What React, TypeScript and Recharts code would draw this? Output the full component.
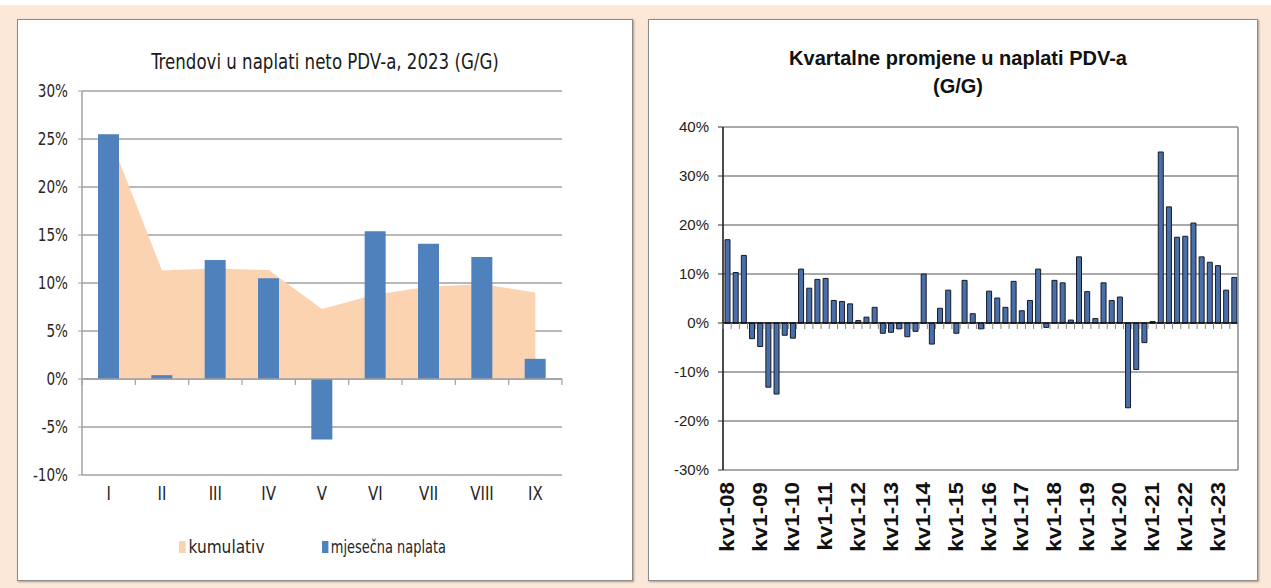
import { ComposedChart, BarChart, Bar, Area, XAxis, YAxis, CartesianGrid, ReferenceLine } from "recharts"

// left chart: monthly 2023
const months = ["I", "II", "III", "IV", "V", "VI", "VII", "VIII", "IX"]
const cumulative = [25.5, 11.3, 11.5, 11.35, 7.3, 8.8, 9.6, 9.9, 9.0]
const monthly = [25.5, 0.4, 12.4, 10.5, -6.3, 15.4, 14.1, 12.7, 2.1]
const leftTicks = [-10, -5, 0, 5, 10, 15, 20, 25, 30]

// right chart: quarterly 2008-2023
const years = ["08", "09", "10", "11", "12", "13", "14", "15", "16", "17", "18", "19", "20", "21", "22", "23"]
const quarterly = [
  17.0, 10.3, 13.8, -3.2, -4.8, -13.1, -14.5, -2.5, -3.1, 11.0,
  7.1, 8.9, 9.1, 4.6, 4.4, 3.9, 0.5, 1.2, 3.2, -2.1,
  -1.9, -1.2, -2.8, -1.7, 10.0, -4.3, 3.0, 6.7, -2.1, 8.7,
  1.9, -1.2, 6.5, 5.1, 3.2, 8.5, 2.5, 4.6, 11.0, -0.9,
  8.7, 8.2, 0.6, 13.5, 6.4, 0.9, 8.2, 4.6, 5.3, -17.3,
  -9.5, -4.0, 0.3, 34.9, 23.7, 17.5, 17.7, 20.4, 13.5, 12.4,
  11.7, 6.7, 9.3,
]
const rightTicks = [-30, -20, -10, 0, 10, 20, 30, 40]

const quarters = years.flatMap((y) => [1, 2, 3, 4].map((q) => `kv${q}-${y}`)).slice(0, quarterly.length)

const leftData = months.map((m, i) => ({ m, cum: cumulative[i], mon: monthly[i] }))
const rightData = quarters.map((q, i) => ({ q, v: quarterly[i] }))

// left geometry
const L_W = 562
const L_H = 430
const L_M = { top: 16, right: 20, bottom: 0, left: 0 }
const L_YW = 62
const L_XH = 30
const L_PLOT_W = L_W - L_M.right - L_YW
const L_PLOT_H = L_H - L_M.top - L_XH
const L_BAND = L_PLOT_W / months.length
const L_ZERO = L_M.top + (L_PLOT_H * 30) / 40

// right geometry
const R_W = 609
const R_H = 465
const R_M = { top: 27, right: 18, bottom: 0, left: 0 }
const R_YW = 75
const R_XH = 95
const R_PLOT_W = R_W - R_M.right - R_YW - 1
const R_PLOT_H = R_H - R_M.top - R_XH
const R_BAND = R_PLOT_W / quarters.length
const R_ZERO = R_M.top + (R_PLOT_H * 40) / 70

const narrow = "'Liberation Sans Narrow', 'DejaVu Sans Condensed', Roboto, sans-serif"
const arial = "'Liberation Sans', Arial, sans-serif"

function MonthTick(props: any) {
  const { x, y, payload, index } = props
  const h = L_BAND / 2
  return (
    <g>
      <line x1={x - h} x2={x - h} y1={L_ZERO} y2={L_ZERO + 6} stroke="#a0a0a0" strokeWidth={1.2} />
      {index === months.length - 1 && (
        <line x1={x + h} x2={x + h} y1={L_ZERO} y2={L_ZERO + 6} stroke="#a0a0a0" strokeWidth={1.2} />
      )}
      <text
        transform={`translate(${x},${y + 25}) scale(0.88,1)`}
        textAnchor="middle"
        fontSize={19}
        fill="#262626"
        fontFamily={narrow}
      >
        {payload.value}
      </text>
    </g>
  )
}

function PctTick(props: any) {
  const { x, y, payload } = props
  return (
    <text
      transform={`translate(${x},${y + 6}) scale(0.84,1)`}
      textAnchor="end"
      fontSize={18}
      fill="#262626"
      fontFamily={narrow}
    >
      {`${payload.value}%`}
    </text>
  )
}

function QuarterTick(props: any) {
  const { x, y, payload, index } = props
  const h = R_BAND / 2
  return (
    <g>
      <line x1={x - h} x2={x - h} y1={R_ZERO} y2={R_ZERO + 6} stroke="#888" strokeWidth={1} />
      {index % 4 === 0 && (
        <text
          transform={`translate(${x + 7},${y + 12}) rotate(-90) scale(1.12,1)`}
          textAnchor="end"
          fontSize={20}
          fontWeight="bold"
          fill="#111"
          fontFamily={arial}
        >
          {payload.value}
        </text>
      )}
    </g>
  )
}

const panel = {
  position: "absolute" as const,
  top: 19,
  height: 560,
  background: "#fff",
  border: "1px solid #8a8a8a",
  boxShadow: "1px 1px 2px rgba(0,0,0,0.35)",
}

const legendItem = {
  position: "absolute" as const,
  top: 536,
  fontFamily: narrow,
  fontSize: 18,
  color: "#262626",
  display: "flex",
  alignItems: "center",
  transformOrigin: "left center",
}

export default function App() {
  return (
    <div style={{ position: "absolute", left: 0, top: 0, width: 1271, height: 588, background: "#fce8d9", overflow: "hidden" }}>
      <div style={{ position: "absolute", left: 0, top: 0, width: 1271, height: 5, background: "#fff" }} />
      <div style={{ ...panel, left: 17, width: 614 }} />
      <div style={{ ...panel, left: 648, width: 608 }} />

      <div
        style={{
          position: "absolute", left: 17, width: 616, top: 50, textAlign: "center",
          fontFamily: narrow, fontSize: 21, color: "#1a1a1a", transform: "scaleX(0.88)",
        }}
      >
        Trendovi u naplati neto PDV-a, 2023 (G/G)
      </div>

      <div style={{ position: "absolute", left: 20, top: 75 }}>
        <ComposedChart width={L_W} height={L_H} data={leftData} margin={L_M}>
          <CartesianGrid horizontal vertical={false} stroke="#a0a0a0" strokeWidth={1.6} />
          <XAxis dataKey="m" height={L_XH} axisLine={false} tickLine={false} tickSize={0} tickMargin={0} interval={0} tick={(p: any) => <MonthTick {...p} />} />
          <YAxis
            width={L_YW}
            domain={[-10, 30]}
            ticks={leftTicks}
            interval={0}
            axisLine={{ stroke: "#a0a0a0", strokeWidth: 1.5 }}
            tickLine={{ stroke: "#a0a0a0" }}
            tickSize={4}
            tickMargin={10}
            tick={(p: any) => <PctTick {...p} />}
          />
          <Area type="linear" dataKey="cum" baseValue={0} fill="#fbd3b0" fillOpacity={1} stroke="none" dot={false} activeDot={false} isAnimationActive={false} />
          <Bar dataKey="mon" barSize={21} fill="#4f81bd" isAnimationActive={false} />
          <ReferenceLine y={0} stroke="#a0a0a0" strokeWidth={1.6} />
        </ComposedChart>
      </div>

      <div style={{ ...legendItem, left: 179, transform: "scaleX(0.95)" }}>
        <span style={{ display: "inline-block", width: 7, height: 12, background: "#fbd3b0", marginRight: 3 }} />
        <span>kumulativ</span>
      </div>
      <div style={{ ...legendItem, left: 322, transform: "scaleX(0.8)" }}>
        <span style={{ display: "inline-block", width: 8, height: 12, background: "#4f81bd", marginRight: 3 }} />
        <span>mjesečna naplata</span>
      </div>

      <div
        style={{
          position: "absolute", left: 648, width: 620, top: 44, textAlign: "center",
          fontFamily: arial, fontSize: 20, fontWeight: "bold", color: "#111", lineHeight: "28px",
        }}
      >
        Kvartalne promjene u naplati PDV-a
        <br />
        (G/G)
      </div>

      <div style={{ position: "absolute", left: 648, top: 100 }}>
        <BarChart width={R_W} height={R_H} data={rightData} margin={R_M} barSize={5}>
          <CartesianGrid horizontal vertical={false} stroke="#555" strokeWidth={1.2} />
          <XAxis dataKey="q" height={R_XH} axisLine={false} tickLine={false} tickSize={0} tickMargin={0} interval={0} tick={(p: any) => <QuarterTick {...p} />} />
          <YAxis
            width={R_YW}
            domain={[-30, 40]}
            ticks={rightTicks}
            interval={0}
            tickFormatter={(v) => `${v}%`}
            axisLine={{ stroke: "#111", strokeWidth: 1.5 }}
            tickLine={{ stroke: "#333" }}
            tickSize={5}
            tickMargin={9}
            tick={{ fontSize: 15, fill: "#222", fontFamily: arial }}
          />
          <YAxis yAxisId="r" orientation="right" width={1} tick={false} axisLine={{ stroke: "#8a8a8a", strokeWidth: 1.5 }} tickLine={false} />
          <Bar dataKey="v" fill="#4a6fa8" stroke="#141a2a" strokeWidth={1} isAnimationActive={false} />
          <ReferenceLine y={0} stroke="#111" strokeWidth={1.3} />
        </BarChart>
      </div>
    </div>
  )
}
